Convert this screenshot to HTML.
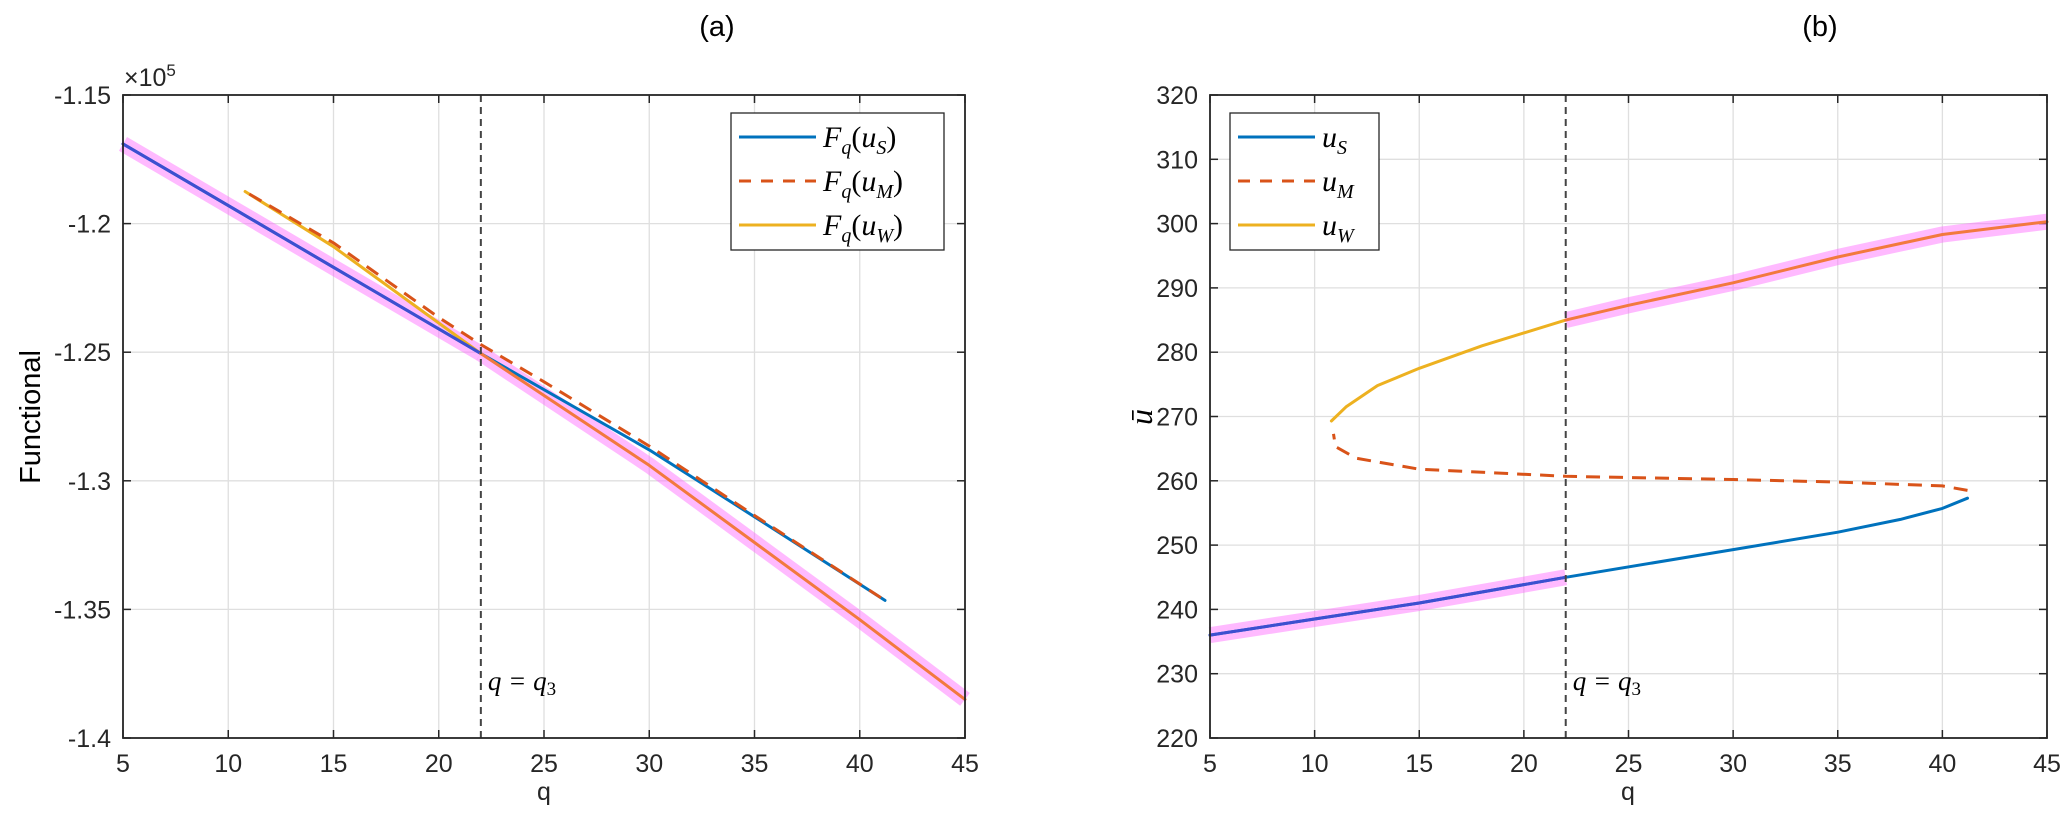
<!DOCTYPE html>
<html><head><meta charset="utf-8">
<style>
html,body{margin:0;padding:0;background:#fff;}
svg{display:block;font-family:"Liberation Sans",sans-serif;}
.t{font-size:25px;fill:#262626;}
.m{font-family:"Liberation Serif",serif;font-style:italic;fill:#000;}
</style></head><body>
<svg id="s" width="2067" height="814" xmlns="http://www.w3.org/2000/svg"></svg>
<script>
const s=document.getElementById('s');let h='';
function A(x0,x1,y0,y1,qa,qb,va,vb){return{X:q=>x0+(q-qa)/(qb-qa)*(x1-x0),Y:v=>y1-(v-va)/(vb-va)*(y1-y0),x0,x1,y0,y1};}
const L=A(123,965,95,738,5,45,-1.4,-1.15), R=A(1210,2047,95,738,5,45,220,320);
function pl(ax,pts,st){return `<polyline fill="none" stroke-linejoin="round" points="${pts.map(p=>ax.X(p[0]).toFixed(1)+','+ax.Y(p[1]).toFixed(1)).join(' ')}" ${st}/>`;}
function frame(ax,xt,yt){
 let o='';
 xt.forEach(q=>{const x=ax.X(q);o+=`<line x1="${x}" y1="${ax.y0}" x2="${x}" y2="${ax.y1}" stroke="#dfdfdf" stroke-width="1.3"/>`;
  o+=`<line x1="${x}" y1="${ax.y1}" x2="${x}" y2="${ax.y1-8}" stroke="#262626" stroke-width="1.5"/><line x1="${x}" y1="${ax.y0}" x2="${x}" y2="${ax.y0+8}" stroke="#262626" stroke-width="1.5"/>`;
  o+=`<text class="t" x="${x}" y="${ax.y1+34}" text-anchor="middle">${q}</text>`;});
 yt.forEach(([v,l])=>{const y=ax.Y(v);o+=`<line x1="${ax.x0}" y1="${y}" x2="${ax.x1}" y2="${y}" stroke="#dfdfdf" stroke-width="1.3"/>`;
  o+=`<line x1="${ax.x0}" y1="${y}" x2="${ax.x0+8}" y2="${y}" stroke="#262626" stroke-width="1.5"/><line x1="${ax.x1}" y1="${y}" x2="${ax.x1-8}" y2="${y}" stroke="#262626" stroke-width="1.5"/>`;
  o+=`<text class="t" x="${ax.x0-12}" y="${y+9}" text-anchor="end">${l}</text>`;});
 return o;}
function box(ax){return `<rect x="${ax.x0}" y="${ax.y0}" width="${ax.x1-ax.x0}" height="${ax.y1-ax.y0}" fill="none" stroke="#262626" stroke-width="1.8"/>`;}
const xt=[5,10,15,20,25,30,35,40,45];
h+=frame(L,xt,[[-1.15,'-1.15'],[-1.2,'-1.2'],[-1.25,'-1.25'],[-1.3,'-1.3'],[-1.35,'-1.35'],[-1.4,'-1.4']]);
let ry=[];for(let v=220;v<=320;v+=10)ry.push([v,''+v]);
h+=frame(R,xt,ry);
const MAG='stroke="#ff66ff" stroke-opacity="0.45" stroke-width="16" stroke-linecap="butt"';
const SOL='stroke-linecap="round"';
const lb=[[5,-1.169],[10,-1.193],[15,-1.217],[22,-1.2505],[30,-1.288],[35,-1.314],[41.2,-1.3465]];
const lr=[[11,-1.1885],[15,-1.2075],[20,-1.2365],[22,-1.247],[25,-1.2615],[30,-1.2865],[35,-1.3135],[41.2,-1.3465]];
const ly=[[10.8,-1.1875],[15,-1.209],[22,-1.2505]];
const lo=[[22,-1.2505],[30,-1.294],[35,-1.324],[40,-1.354],[45,-1.385]];
h+=pl(L,lb.slice(0,4),MAG)+pl(L,lo,MAG);
h+=pl(L,ly,'stroke="#EDB120" stroke-width="3" '+SOL);
h+=pl(L,lb,'stroke="#0072BD" stroke-width="3" '+SOL);
h+=pl(L,lr,'stroke="#D95319" stroke-width="3" stroke-dasharray="14,9" stroke-linecap="butt"');
h+=pl(L,lb.slice(0,4),'stroke="#3d4fd0" stroke-width="3" '+SOL);
h+=pl(L,lo,'stroke="#f2793e" stroke-width="3" '+SOL);
const rb=[[5,236],[10,238.5],[15,241],[22,245],[30,249.3],[35,252],[38,254],[40,255.7],[41.2,257.3]];
const rr=[[41.2,258.5],[40,259.2],[35,259.8],[30,260.2],[22,260.7],[15,261.8],[12,263.5],[11,265.3],[10.9,267.3]];
const ryl=[[10.8,269.3],[11.5,271.5],[13,274.8],[15,277.5],[18,281],[22,285]];
const ro=[[22,285],[25,287.3],[30,290.8],[35,294.8],[40,298.3],[45,300.3]];
h+=pl(R,rb.slice(0,4),MAG)+pl(R,ro,MAG);
h+=pl(R,rb,'stroke="#0072BD" stroke-width="3" '+SOL);
h+=pl(R,rr,'stroke="#D95319" stroke-width="3" stroke-dasharray="14,9" stroke-linecap="butt"');
h+=pl(R,ryl,'stroke="#EDB120" stroke-width="3" '+SOL);
h+=pl(R,rb.slice(0,4),'stroke="#3d4fd0" stroke-width="3" '+SOL);
h+=pl(R,ro,'stroke="#f2793e" stroke-width="3" '+SOL);
[[L,22],[R,22]].forEach(([ax,q])=>{const x=ax.X(q);h+=`<line x1="${x}" y1="${ax.y0}" x2="${x}" y2="${ax.y1}" stroke="#444" stroke-width="2" stroke-dasharray="7,5"/>`;
 h+=`<text class="m" x="${x+7}" y="690" font-size="27">q = q<tspan font-size="19" font-style="normal" dy="5">3</tspan></text>`;});
h+=box(L)+box(R);
function leg(x0,x1,y0,items){let o=`<rect x="${x0}" y="${y0}" width="${x1-x0}" height="${items.length*44+5}" fill="#fff" stroke="#262626" stroke-width="1.3"/>`;
 items.forEach((it,i)=>{const y=y0+24+i*44;o+=`<line x1="${x0+8}" y1="${y}" x2="${x0+85}" y2="${y}" stroke="${it[0]}" stroke-width="3" ${it[2]?'stroke-dasharray="12,10"':''}/>`;
 o+=`<text class="m" x="${x0+92}" y="${y+10}" font-size="30">${it[1]}</text>`;});return o;}
h+=leg(731,944,113,[['#0072BD','F<tspan font-size="20" dy="7">q</tspan><tspan dy="-7" font-style="normal">(</tspan>u<tspan font-size="20" dy="7">S</tspan><tspan dy="-7" font-style="normal">)</tspan>'],['#D95319','F<tspan font-size="20" dy="7">q</tspan><tspan dy="-7" font-style="normal">(</tspan>u<tspan font-size="20" dy="7">M</tspan><tspan dy="-7" font-style="normal">)</tspan>',1],['#EDB120','F<tspan font-size="20" dy="7">q</tspan><tspan dy="-7" font-style="normal">(</tspan>u<tspan font-size="20" dy="7">W</tspan><tspan dy="-7" font-style="normal">)</tspan>']]);
h+=leg(1230,1379,113,[['#0072BD','u<tspan font-size="20" dy="7">S</tspan>'],['#D95319','u<tspan font-size="20" dy="7">M</tspan>',1],['#EDB120','u<tspan font-size="20" dy="7">W</tspan>']]);
h+=`<text x="717" y="36" font-size="29" text-anchor="middle" fill="#000">(a)</text>`;
h+=`<text x="1820" y="36" font-size="29" text-anchor="middle" fill="#000">(b)</text>`;
h+=`<text class="t" x="544" y="800" text-anchor="middle">q</text>`;
h+=`<text class="t" x="1628" y="800" text-anchor="middle">q</text>`;
h+=`<text x="40" y="417" font-size="29" fill="#000" text-anchor="middle" transform="rotate(-90 40 417)">Functional</text>`;
h+=`<text class="m" x="1152" y="417" font-size="32" text-anchor="middle" transform="rotate(-90 1152 417)">ū</text>`;
h+=`<text class="t" x="124" y="86">×10<tspan font-size="17" dy="-10">5</tspan></text>`;
s.innerHTML=h;
</script>
</body></html>
